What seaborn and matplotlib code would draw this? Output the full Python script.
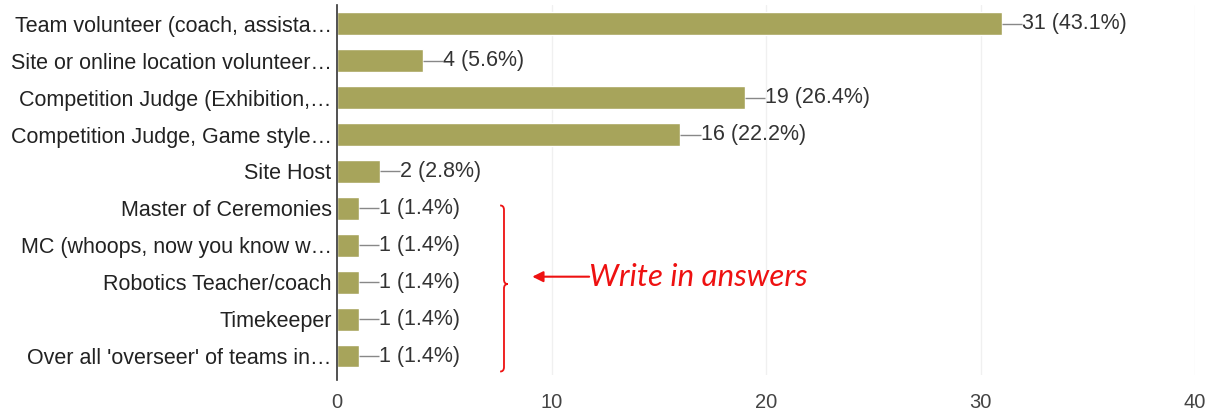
import matplotlib
matplotlib.use("Agg")
import matplotlib.pyplot as plt
from matplotlib.path import Path
from matplotlib.patches import PathPatch
import seaborn as sns
import pandas as pd

categories = [
    "Team volunteer (coach, assista\u2026",
    "Site or online location volunteer\u2026",
    "Competition Judge (Exhibition,\u2026",
    "Competition Judge, Game style\u2026",
    "Site Host",
    "Master of Ceremonies",
    "MC (whoops, now you know w\u2026",
    "Robotics Teacher/coach",
    "Timekeeper",
    "Over all 'overseer' of teams in\u2026",
]
counts = [31, 4, 19, 16, 2, 1, 1, 1, 1, 1]
percents = ["43.1%", "5.6%", "26.4%", "22.2%", "2.8%", "1.4%", "1.4%", "1.4%", "1.4%", "1.4%"]
x_ticks = [0, 10, 20, 30, 40]
note_text = "Write in answers"

sns.set_theme(style="white")
plt.rcParams["font.family"] = ["Liberation Sans", "DejaVu Sans"]

df = pd.DataFrame({"role": categories, "count": counts})

fig = plt.figure(figsize=(12.17, 4.12), dpi=100)
ax = fig.add_axes([0.277, 0.091, 0.705, 0.896])

sns.barplot(data=df, y="role", x="count", orient="h", color="#a7a45b",
            saturation=1, width=0.62, ax=ax, order=categories)

ax.set_xlim(0, 40)
ax.set_ylim(len(categories) - 0.5, -0.5)
ax.set_xticks(x_ticks)
ax.set_xticklabels([str(t) for t in x_ticks], fontsize=14.5, color="#444444")
ax.tick_params(axis="x", length=0, pad=13)
ax.tick_params(axis="y", length=0, pad=4, labelsize=15.5, labelcolor="#222222")
ax.set_xlabel("")
ax.set_ylabel("")
for x in x_ticks[1:]:
    ax.axvline(x, color="#f0f0f0", lw=1, zorder=0)
for s in ["top", "right", "bottom"]:
    ax.spines[s].set_visible(False)
ax.spines["left"].set_color("#333333")
ax.spines["left"].set_linewidth(1.2)
ax.spines["left"].set_bounds(-0.5, len(categories) - 0.35)

for i, (c, p) in enumerate(zip(counts, percents)):
    ax.plot([c, c + 0.95], [i, i], color="#888888", lw=1, solid_capstyle="butt")
    ax.text(c + 0.95, i, f"{c} ({p})", va="center", ha="left",
            fontsize=15.5, color="#333333")

# brace
bx = 7.78
yt, ym, yb = 4.92, 7.05, 9.42
d = 0.12
verts = [(bx - 0.18, yt), (bx, yt), (bx, yt + d),
         (bx, ym - d), (bx, ym), (bx + 0.18, ym),
         (bx, ym), (bx, ym + d),
         (bx, yb - d), (bx, yb), (bx - 0.18, yb)]
codes = [Path.MOVETO, Path.CURVE3, Path.CURVE3,
         Path.LINETO, Path.CURVE3, Path.CURVE3,
         Path.CURVE3, Path.CURVE3,
         Path.LINETO, Path.CURVE3, Path.CURVE3]
ax.add_patch(PathPatch(Path(verts, codes), fill=False, edgecolor="#ee1111",
                       lw=1.3, clip_on=False))

ax.annotate("", xy=(9.1, 6.85), xytext=(11.75, 6.85),
            arrowprops=dict(arrowstyle="-|>", color="#ee1111", lw=1.5,
                            mutation_scale=16, shrinkA=0, shrinkB=0))
ax.text(11.75, 6.85, note_text, color="#ee1111", fontsize=22.5, style="italic",
        va="center", ha="left", family=["Lato", "DejaVu Sans"])

fig.savefig("out.png", dpi=100, facecolor="white")
